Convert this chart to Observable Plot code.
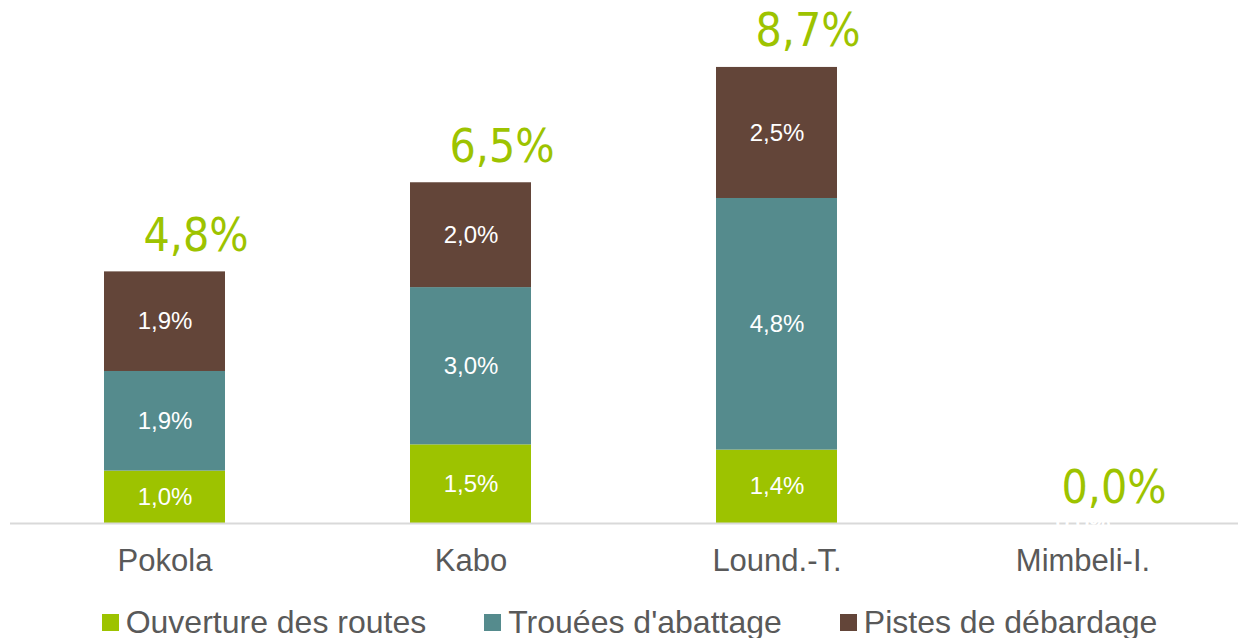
<!DOCTYPE html>
<html>
<head>
<meta charset="utf-8">
<script src="https://cdn.jsdelivr.net/npm/d3@7"></script>
<script src="https://cdn.jsdelivr.net/npm/@observablehq/plot@0.6"></script>
<style>
  html, body { margin: 0; padding: 0; background: #fff; width: 1238px; height: 638px; overflow: hidden; }
  #chart svg { display: block; }
  #legend { display: flex; justify-content: center; align-items: center; height: 32px; padding-top: 6px; padding-left: 21px;
    font-family: "Liberation Sans", Arial, sans-serif; font-size: 32px; color: #595959; white-space: nowrap; }
  .item { display: flex; align-items: center; margin: 0 29px; }
  .sw { width: 17px; height: 17px; margin-right: 7px; }
</style>
</head>
<body>
<div id="chart"></div>
<div id="legend"></div>
<script>
const categories = ["Pokola", "Kabo", "Lound.-T.", "Mimbeli-I."];
const seriesNames = ["Ouverture des routes", "Trouées d'abattage", "Pistes de débardage"];
const ouverture = [1.0, 1.5, 1.4, 0.0];
const trouees = [1.9, 3.0, 4.8, 0.0];
const pistes = [1.9, 2.0, 2.5, 0.0];
const totals = [4.8, 6.5, 8.7, 0.0];
const colors = ["#9dc300", "#558b8d", "#634539"];

const seriesValues = [ouverture, trouees, pistes];
const rows = [];
categories.forEach((c, i) => {
  seriesNames.forEach((s, j) => rows.push({cat: c, series: s, value: seriesValues[j][i]}));
});
const totalRows = categories.map((c, i) => ({cat: c, total: totals[i]}));
const fmt = v => v.toFixed(1).replace(".", ",") + "%";

const chart = Plot.plot({
  width: 1238,
  height: 600,
  marginLeft: 10,
  marginRight: 0,
  marginTop: 25,
  marginBottom: 77,
  x: {domain: categories, paddingInner: 0.603, paddingOuter: 0.303, axis: null},
  y: {domain: [0, 9.5], axis: null},
  color: {domain: seriesNames, range: colors},
  style: {fontFamily: "'Liberation Sans', Arial, sans-serif", background: "#fff"},
  marks: [
    Plot.barY(rows, {x: "cat", y: "value", fill: "series"}),
    Plot.ruleY([0], {stroke: "#d9d9d9", strokeWidth: 2}),
    Plot.text(rows, Plot.stackY({x: "cat", y: "value", text: d => fmt(d.value), fill: "white", fontSize: 24})),
    Plot.text(totalRows, {x: "cat", y: "total", text: d => fmt(d.total), dx: 31, dy: -21, lineAnchor: "bottom",
      fill: "#9dc300", fontSize: 46, fontFamily: "'DejaVu Sans Condensed', 'DejaVu Sans', sans-serif"}),
    Plot.axisX({tickSize: 0, tickPadding: 25, fontSize: 31, fill: "#595959", label: null})
  ]
});
document.getElementById("chart").appendChild(chart);

const legend = document.getElementById("legend");
seriesNames.forEach((s, j) => {
  const item = document.createElement("div");
  item.className = "item";
  const sw = document.createElement("div");
  sw.className = "sw";
  sw.style.background = colors[j];
  const t = document.createElement("span");
  t.textContent = s;
  item.appendChild(sw);
  item.appendChild(t);
  legend.appendChild(item);
});
</script>
</body>
</html>
